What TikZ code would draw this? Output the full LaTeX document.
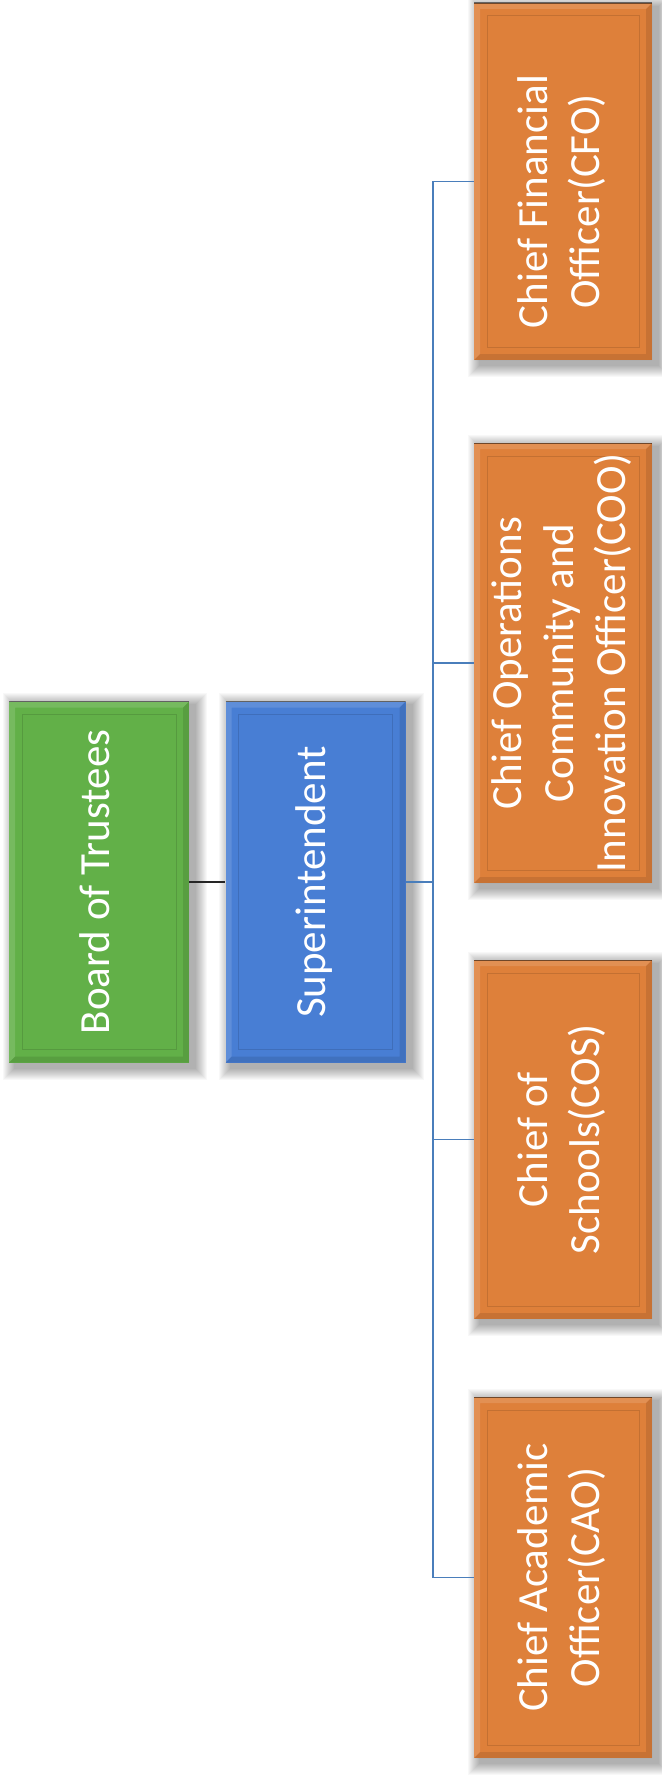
\documentclass[tikz,border=0pt]{standalone}
\usepackage{fontspec}
\usepackage{graphicx}
\setmainfont{Carlito}
\usetikzlibrary{calc,backgrounds}
\definecolor{boardgreen}{RGB}{98,176,72}
\definecolor{supblue}{RGB}{72,126,212}
\definecolor{chieforange}{RGB}{222,128,58}
\definecolor{linkblue}{RGB}{74,126,187}
\tikzset{
  orgbox/.style={
    draw=none, fill=#1, inner sep=0pt, text=white,
    font=\fontsize{43}{52}\selectfont,
    path picture={
      \path (path picture bounding box.south west) coordinate (sw)
            (path picture bounding box.north east) coordinate (ne);
      \fill[white,opacity=.13] (sw) -- ($(sw)+(6pt,6pt)$) |- ($(ne)+(-6pt,-6pt)$) -- (ne) -- (sw|-ne) -- cycle;
      \fill[black,opacity=.10] (sw) -- ($(sw)+(6pt,6pt)$) -| ($(ne)+(-6pt,-6pt)$) -- (ne) -- (ne|-sw) -- cycle;
      \draw[black,opacity=.12,line width=1pt] ($(sw)+(13pt,13pt)$) rectangle ($(ne)+(-13pt,-13pt)$);
      \draw[black,opacity=.5,line width=1.5pt] (sw|-ne) -- (ne);
    }
  },
  softshadow/.style={fill=black, opacity=0.028},
  blackline/.style={draw=black!85, line width=2pt},
  blueline/.style={draw=linkblue, line width=1.6pt},
}
\newcommand{\boxtext}[1]{\rotatebox{90}{\begin{tabular}{@{}c@{}}#1\end{tabular}}}
\begin{document}
\begin{tikzpicture}[x=1pt,y=-1pt]
\useasboundingbox (0,0) rectangle (661,1776);

\node[orgbox=boardgreen, minimum width=180pt, minimum height=361pt] (bot) at (99,882) {\boxtext{Board of Trustees}};
\node[orgbox=supblue, minimum width=180pt, minimum height=361pt] (sup) at (315.5,882) {\boxtext{Superintendent}};

\node[orgbox=chieforange, minimum width=178pt, minimum height=357pt] (cfo) at (563,181.5) {\rotatebox{90}{\begin{tabular}{@{}c@{}}Chief Financial\\Officer(CFO)\end{tabular}\hspace*{40pt}}};
\node[orgbox=chieforange, minimum width=178pt, minimum height=440pt] (coo) at (563,663) {\boxtext{Chief Operations\\Community and\\Innovation Officer(COO)}};
\node[orgbox=chieforange, minimum width=178pt, minimum height=359pt] (cos) at (563,1139.5) {\boxtext{Chief of\\Schools(COS)}};
\node[orgbox=chieforange, minimum width=178pt, minimum height=361pt] (cao) at (563,1577.5) {\boxtext{Chief Academic\\Officer(CAO)}};

\begin{scope}[on background layer]
  \fill[white] (0,0) rectangle (661,1776);
  \foreach \n in {bot,sup,cfo,coo,cos,cao}
    \foreach \i in {1,...,12}
      \fill[softshadow] ($(\n.north west)+(6-\i,4-\i)$) rectangle ($(\n.south east)+(6+\i,5+\i)$);
\end{scope}

\coordinate (spine) at (433,0);

\draw[blackline] (bot.east) -- (sup.west);
\draw[blueline] (sup.east) -- (sup.east -| spine);
\draw[blueline] (spine |- cfo.west) -- (spine |- cao.west);
\foreach \n in {cfo,coo,cos,cao}
  \draw[blueline] (spine |- \n.west) -- (\n.west);
\end{tikzpicture}
\end{document}
